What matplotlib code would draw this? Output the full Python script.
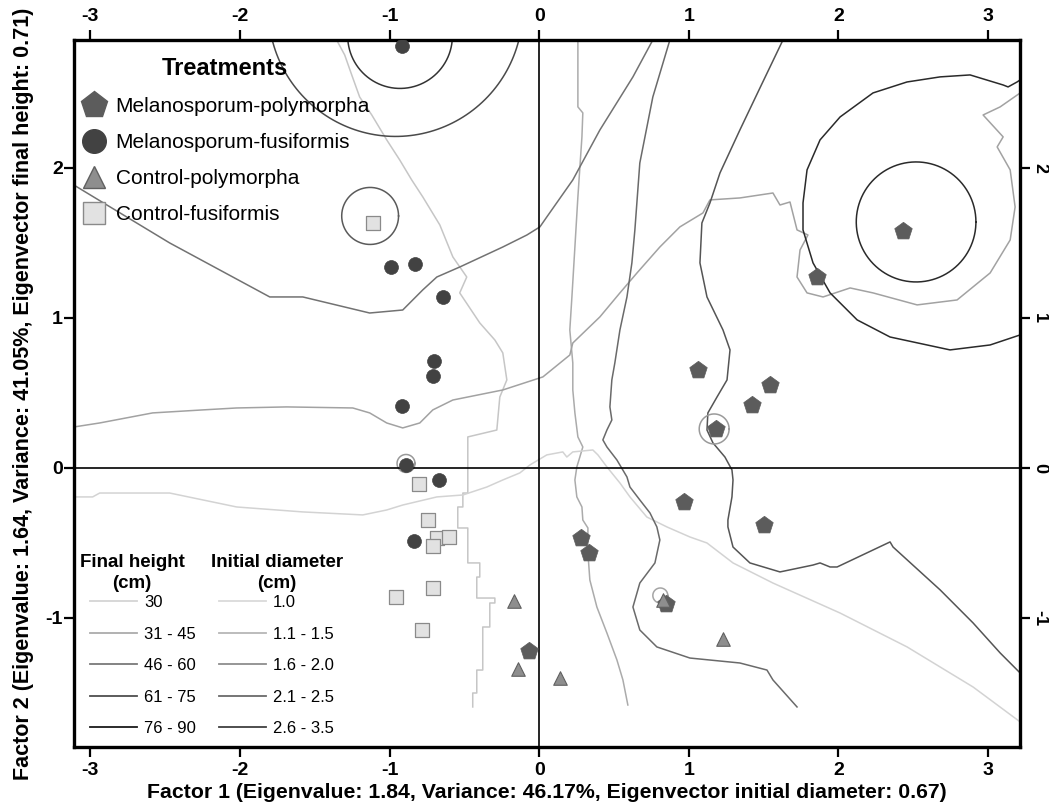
import numpy as np
import matplotlib
matplotlib.use('Agg')
import matplotlib.pyplot as plt
from matplotlib.lines import Line2D

# ---- treatment scores (factor 1, factor 2) ----
mel_poly_x = [2.43, 1.86, 1.06, 1.54, 1.42, 1.18, 0.97, 1.50, 0.28, 0.33, 0.85, -0.07]
mel_poly_y = [1.58, 1.27, 0.65, 0.55, 0.42, 0.26, -0.23, -0.38, -0.47, -0.57, -0.91, -1.22]
mel_fus_x = [-0.92, -0.99, -0.83, -0.64, -0.70, -0.71, -0.92, -0.89, -0.67, -0.84]
mel_fus_y = [2.81, 1.34, 1.36, 1.14, 0.71, 0.61, 0.41, 0.02, -0.08, -0.49]
con_poly_x = [-0.17, -0.14, 0.14, 0.83, 1.23]
con_poly_y = [-0.89, -1.34, -1.40, -0.88, -1.14]
con_fus_x = [-1.11, -0.80, -0.74, -0.68, -0.60, -0.71, -0.71, -0.96, -0.78]
con_fus_y = [1.63, -0.11, -0.35, -0.47, -0.46, -0.52, -0.80, -0.86, -1.08]

treat_labels = ['Melanosporum-polymorpha', 'Melanosporum-fusiformis',
                'Control-polymorpha', 'Control-fusiformis']

# ---- isolines ----
A_x = [-1.354, -1.300, -1.253, -1.200, -1.119, -1.019, -0.932, -0.852, -0.778, -0.664, -0.577,
       -0.484, -0.531, -0.397, -0.296, -0.243, -0.216, -0.263, -0.283, -0.477, -0.477, -0.510,
       -0.510, -0.544, -0.544, -0.477, -0.477, -0.397, -0.397, -0.417, -0.417, -0.296, -0.296,
       -0.330, -0.330, -0.377, -0.377, -0.417, -0.417, -0.444, -0.444]
A_y = [2.853, 2.753, 2.62, 2.473, 2.353, 2.187, 2.053, 1.92, 1.807, 1.62, 1.407, 1.273, 1.167,
       0.967, 0.853, 0.767, 0.587, 0.473, 0.253, 0.207, -0.167, -0.167, -0.26, -0.26, -0.4, -0.4,
       -0.633, -0.633, -0.727, -0.727, -0.867, -0.867, -0.9, -0.9, -1.06, -1.06, -1.347, -1.347,
       -1.5, -1.5, -1.593]

B_x = [0.259, 0.259, 0.292, 0.286, 0.259, 0.239, 0.219, 0.205, 0.225, 0.225, 0.239, 0.259, 0.292,
       0.272, 0.252, 0.239, 0.252, 0.286, 0.292, 0.326, 0.326, 0.339, 0.386, 0.453, 0.520, 0.560, 0.593]
B_y = [2.853, 2.407, 2.367, 2.207, 1.807, 1.473, 1.14, 0.92, 0.70, 0.52, 0.367, 0.207, 0.14, 0.073,
       0.007, -0.08, -0.193, -0.26, -0.347, -0.4, -0.567, -0.747, -0.927, -1.1, -1.28, -1.413, -1.58]

C_x = [-3.112, -2.985, -2.938, -2.470, -2.022, -1.580, -1.179, -1.019, -0.912, -0.684, -0.510,
       -0.350, -0.243, -0.129, -0.062, 0.051, 0.158, 0.185, 0.225, 0.359, 0.393, 0.453, 0.540,
       0.607, 0.720, 0.854, 1.008, 1.122, 1.296, 1.563, 2.012, 2.460, 2.901, 3.216]
C_y = [-0.193, -0.193, -0.167, -0.167, -0.26, -0.293, -0.313, -0.28, -0.247, -0.193, -0.18, -0.127,
       -0.08, -0.033, 0.02, 0.087, 0.107, 0.073, 0.107, 0.12, 0.087, 0.007, -0.1, -0.193, -0.327,
       -0.393, -0.46, -0.5, -0.633, -0.767, -0.967, -1.193, -1.46, -1.693]

D_x = [-3.112, -2.938, -2.584, -2.250, -2.022, -1.688, -1.246, -1.133, -1.019, -0.912, -0.798,
       -0.711, -0.577, -0.243, 0.025, 0.205, 0.225, 0.406, 0.540, 0.654, 0.807, 0.941, 1.095,
       1.142, 1.342, 1.563, 1.610, 1.677, 1.724, 1.797, 1.744, 1.724, 1.791, 1.898, 2.079, 2.232,
       2.527, 2.794, 3.015, 3.149, 3.182, 3.149, 3.062, 3.102, 2.968, 3.082, 3.216]
D_y = [0.273, 0.3, 0.367, 0.387, 0.4, 0.407, 0.4, 0.367, 0.3, 0.267, 0.3, 0.387, 0.453, 0.52, 0.607,
       0.753, 0.833, 1.007, 1.167, 1.3, 1.473, 1.607, 1.7, 1.787, 1.8, 1.833, 1.753, 1.773, 1.587,
       1.553, 1.453, 1.273, 1.167, 1.14, 1.2, 1.167, 1.087, 1.12, 1.3, 1.52, 1.74, 1.987, 2.14,
       2.207, 2.353, 2.407, 2.5]

E_x = [-3.112, -2.470, -1.801, -1.580, -1.133, -0.912, -0.778, -0.684, -0.530, -0.243, -0.082,
       0.005, 0.051, 0.225, 0.406, 0.627, 0.760]
E_y = [1.887, 1.5, 1.14, 1.14, 1.033, 1.053, 1.187, 1.273, 1.34, 1.473, 1.553, 1.607, 1.673, 1.92,
       2.253, 2.607, 2.853]

F_x = [0.874, 0.760, 0.673, 0.640, 0.620, 0.587, 0.540, 0.506, 0.486, 0.473, 0.486, 0.453, 0.426,
       0.453, 0.520, 0.587, 0.607, 0.673, 0.741, 0.787, 0.807, 0.774, 0.673, 0.627, 0.673, 0.787,
       1.008, 1.342, 1.523, 1.563, 1.724]
F_y = [2.853, 2.473, 2.033, 1.587, 1.367, 1.14, 0.92, 0.70, 0.587, 0.407, 0.32, 0.253, 0.187, 0.14,
       0.053, -0.06, -0.127, -0.213, -0.3, -0.393, -0.48, -0.633, -0.767, -0.927, -1.08, -1.193,
       -1.267, -1.3, -1.347, -1.413, -1.593]

G_x = [1.630, 1.476, 1.342, 1.209, 1.142, 1.088, 1.075, 1.122, 1.229, 1.276, 1.256, 1.189, 1.128,
       1.122, 1.162, 1.242, 1.289, 1.296, 1.289, 1.262, 1.262, 1.296, 1.409, 1.610, 1.831, 1.878,
       1.945, 1.992, 2.346, 2.366, 2.681, 2.901, 3.082, 3.216]
G_y = [2.853, 2.533, 2.253, 1.967, 1.767, 1.633, 1.367, 1.14, 0.92, 0.787, 0.587, 0.473, 0.367,
       0.253, 0.167, 0.073, -0.013, -0.08, -0.193, -0.347, -0.393, -0.527, -0.633, -0.693, -0.647,
       -0.633, -0.66, -0.66, -0.493, -0.527, -0.813, -1.033, -1.233, -1.367]

RO_x = [3.216, 3.195, 3.135, 3.102, 2.881, 2.681, 2.459, 2.232, 2.012, 1.878, 1.791, 1.764, 1.764,
        1.831, 1.945, 2.126, 2.346, 2.747, 3.015, 3.216]
RO_y = [2.587, 2.573, 2.54, 2.553, 2.62, 2.607, 2.573, 2.5, 2.34, 2.187, 1.987, 1.767, 1.587, 1.367,
        1.167, 0.987, 0.873, 0.787, 0.82, 0.887]

# closed isolines (centre x, centre y, radius)
ring_cx = [-0.93, -0.96, -1.13, 2.52, -0.89, 1.17, 0.81]
ring_cy = [2.88, 3.06, 1.68, 1.64, 0.03, 0.26, -0.85]
ring_r = [0.35, 0.85, 0.19, 0.40, 0.06, 0.10, 0.05]

height_labels = ['30', '31 - 45', '46 - 60', '61 - 75', '76 - 90']
diam_labels = ['1.0', '1.1 - 1.5', '1.6 - 2.0', '2.1 - 2.5', '2.6 - 3.5']

plt.rcParams['font.family'] = ['Liberation Sans', 'DejaVu Sans']
plt.rcParams['axes.unicode_minus'] = False

fig = plt.figure(figsize=(10.49, 8.06), dpi=100)
ax = fig.add_axes([0.0705, 0.0732, 0.9019, 0.8772])

lines = [(A_x, A_y, '#c6c6c6'), (B_x, B_y, '#ababab'), (C_x, C_y, '#d3d3d3'),
         (D_x, D_y, '#a2a2a2'), (E_x, E_y, '#727272'), (F_x, F_y, '#6a6a6a'),
         (G_x, G_y, '#555555'), (RO_x, RO_y, '#2a2a2a')]
for lx, ly, c in lines:
    ax.plot(lx, ly, color=c, lw=1.1, zorder=1)

ring_col = ['#333333', '#4a4a4a', '#5a5a5a', '#2a2a2a', '#999999', '#9a9a9a', '#a5a5a5']
t = np.linspace(0, 2 * np.pi, 200)
for cx, cy, r, c in zip(ring_cx, ring_cy, ring_r, ring_col):
    ax.plot(cx + r * np.cos(t), cy + r * np.sin(t), color=c, lw=1.1, zorder=1)

ax.axhline(0, color='black', lw=1.2, zorder=2)
ax.axvline(0, color='black', lw=1.2, zorder=2)

ax.scatter(con_fus_x, con_fus_y, marker='s', s=105, c='#e2e2e2', edgecolors='#8a8a8a',
           linewidths=0.9, zorder=3)
ax.scatter(mel_fus_x, mel_fus_y, marker='o', s=100, c='#424242', edgecolors='#424242',
           linewidths=0.5, zorder=4)
ax.scatter(mel_poly_x, mel_poly_y, marker='p', s=175, c='#5c5c5c', edgecolors='#5c5c5c',
           linewidths=0.5, zorder=4)
ax.scatter(con_poly_x, con_poly_y, marker='^', s=95, c='#8e8e8e', edgecolors='#606060',
           linewidths=0.8, zorder=5)

ax.set_xlim(-3.11, 3.215)
ax.set_ylim(-1.86, 2.853)
ax.set_xticks([-3, -2, -1, 0, 1, 2, 3])
ax.set_yticks([-1, 0, 1, 2])
ax.tick_params(axis='both', direction='out', length=7, width=1.6, top=True, right=True,
               labeltop=True, labelright=True, pad=4, labelsize=14)
for tk in ax.xaxis.get_major_ticks() + ax.yaxis.get_major_ticks():
    tk.label1.set_fontweight('bold')
    tk.label2.set_fontweight('bold')
ax.tick_params(axis='y', which='major', pad=1)
for tk in ax.yaxis.get_major_ticks():
    tk.label2.set_rotation(-90)
    tk.label2.set_va('center')
    tk.label2.set_fontsize(13)
for sp in ax.spines.values():
    sp.set_linewidth(2.4)

ax.set_xlabel('Factor 1 (Eigenvalue: 1.84, Variance: 46.17%, Eigenvector initial diameter: 0.67)',
              fontweight='bold', fontsize=15.3, labelpad=3)
ax.set_ylabel('Factor 2 (Eigenvalue: 1.64, Variance: 41.05%, Eigenvector final height: 0.71)',
              fontweight='bold', fontsize=15.5, labelpad=8)

# treatments legend
h_treat = [Line2D([], [], ls='none', marker='p', ms=20, mfc='#5c5c5c', mec='#5c5c5c'),
           Line2D([], [], ls='none', marker='o', ms=17, mfc='#424242', mec='#424242'),
           Line2D([], [], ls='none', marker='^', ms=16, mfc='#8e8e8e', mec='#606060'),
           Line2D([], [], ls='none', marker='s', ms=16, mfc='#e2e2e2', mec='#8a8a8a')]
leg1 = ax.legend(h_treat, treat_labels, loc='upper left', bbox_to_anchor=(0.0, 0.985),
                 frameon=False, title='Treatments', fontsize=15,
                 title_fontproperties={'weight': 'bold', 'size': 17},
                 handletextpad=0.4, labelspacing=0.82, borderaxespad=0, borderpad=0.3,
                 handlelength=1.3)
ax.add_artist(leg1)

# isoline legends: titles as text, entries as legends
h_cols = ['#d4d4d4', '#ababab', '#7a7a7a', '#4e4e4e', '#1a1a1a']
d_cols = ['#dadada', '#b6b6b6', '#8e8e8e', '#6a6a6a', '#404040']
h_height = [Line2D([], [], color=c, lw=1.3) for c in h_cols]
h_diam = [Line2D([], [], color=c, lw=1.3) for c in d_cols]
ax.text(0.0613, 0.273, 'Final height\n(cm)', transform=ax.transAxes, ha='center', va='top',
        fontweight='bold', fontsize=13.5, linespacing=1.3)
ax.text(0.2146, 0.273, 'Initial diameter\n(cm)', transform=ax.transAxes, ha='center', va='top',
        fontweight='bold', fontsize=13.5, linespacing=1.3)
leg2 = ax.legend(h_height, height_labels, loc='upper left', bbox_to_anchor=(0.012, 0.222),
                 frameon=False, fontsize=12, handlelength=2.8, handletextpad=0.45,
                 labelspacing=0.99, borderaxespad=0, borderpad=0.3)
ax.add_artist(leg2)
leg3 = ax.legend(h_diam, diam_labels, loc='upper left', bbox_to_anchor=(0.148, 0.222),
                 frameon=False, fontsize=12, handlelength=2.8, handletextpad=0.45,
                 labelspacing=0.99, borderaxespad=0, borderpad=0.3)

fig.savefig('out.png', dpi=100)
